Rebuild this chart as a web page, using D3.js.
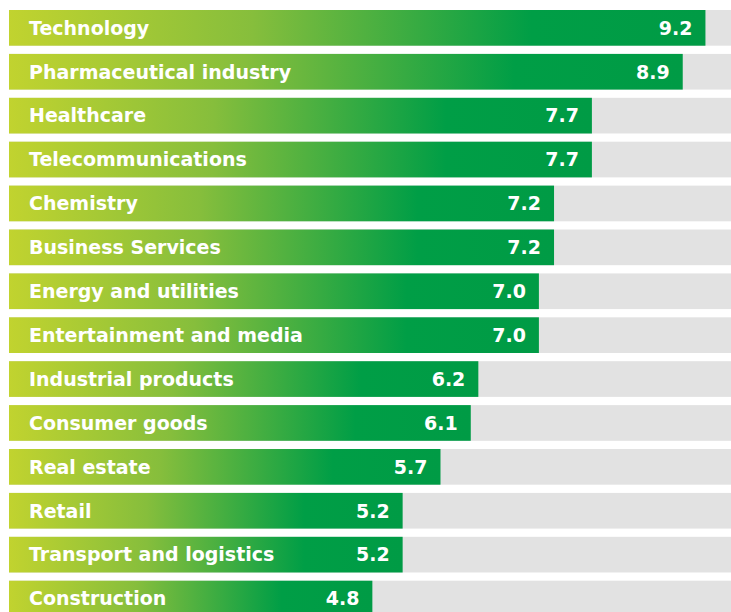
<!DOCTYPE html>
<html>
<head>
<meta charset="utf-8">
<script src="https://cdn.jsdelivr.net/npm/d3@7"></script>
<style>
  body { margin: 0; background: #fff; }
  svg { display: block; }
</style>
</head>
<body>
<div id="chart"></div>
<script>
// sectors and their scores, top to bottom
let sectors = ["Technology", "Pharmaceutical industry", "Healthcare", "Telecommunications",
  "Chemistry", "Business Services", "Energy and utilities", "Entertainment and media",
  "Industrial products", "Consumer goods", "Real estate", "Retail",
  "Transport and logistics", "Construction"];
let scores = [9.2, 8.9, 7.7, 7.7, 7.2, 7.2, 7.0, 7.0, 6.2, 6.1, 5.7, 5.2, 5.2, 4.8];

let data = sectors.map(function(s, i) { return { sector: s, score: scores[i] }; });

let svgWidth = 731;
let svgHeight = 612;

let xScale = d3.scaleLinear()
  .domain([0, 10])
  .range([9, 766]);

let yScale = d3.scaleBand()
  .domain(sectors)
  .range([10 - 8.2 * 0.5, 10 - 4.1 + 43.9 * sectors.length])
  .paddingInner(0.187)
  .paddingOuter(0.0935);

let svg = d3.select("#chart").append("svg")
  .attr("width", svgWidth)
  .attr("height", svgHeight);

// gradient from yellow-green to green over the first 3/4 of each bar
let grad = svg.append("defs").append("linearGradient")
  .attr("id", "barGrad")
  .attr("x1", "0").attr("x2", "1").attr("y1", "0").attr("y2", "0");
grad.append("stop").attr("offset", "0%").attr("stop-color", "#c1d32f");
grad.append("stop").attr("offset", "35%").attr("stop-color", "#86be3c");
grad.append("stop").attr("offset", "75%").attr("stop-color", "#009e46");
grad.append("stop").attr("offset", "100%").attr("stop-color", "#009b45");

// grey track
svg.selectAll("rect.track")
  .data(data)
  .enter()
  .append("rect")
  .attr("class", "track")
  .attr("x", xScale(0))
  .attr("y", function(d) { return yScale(d.sector); })
  .attr("width", svgWidth - xScale(0))
  .attr("height", yScale.bandwidth())
  .attr("fill", "#e2e2e2");

svg.selectAll("rect.bar")
  .data(data)
  .enter()
  .append("rect")
  .attr("class", "bar")
  .attr("x", xScale(0))
  .attr("y", function(d) { return yScale(d.sector); })
  .attr("width", function(d) { return xScale(d.score) - xScale(0); })
  .attr("height", yScale.bandwidth())
  .attr("fill", "url(#barGrad)");

svg.selectAll("text.label")
  .data(data)
  .enter()
  .append("text")
  .attr("class", "label")
  .text(function(d) { return d.sector; })
  .attr("x", 29)
  .attr("y", function(d) { return yScale(d.sector) + yScale.bandwidth() / 2; })
  .attr("dy", "0.36em");

svg.selectAll("text.value")
  .data(data)
  .enter()
  .append("text")
  .attr("class", "value")
  .text(function(d) { return d.score.toFixed(1); })
  .attr("x", function(d) { return xScale(d.score) - 13; })
  .attr("y", function(d) { return yScale(d.sector) + yScale.bandwidth() / 2; })
  .attr("dy", "0.36em")
  .attr("text-anchor", "end");

svg.selectAll("text")
  .style("font-family", "'DejaVu Sans', sans-serif")
  .style("font-weight", "700")
  .style("font-size", "19px")
  .attr("fill", "#fff");
</script>
</body>
</html>
